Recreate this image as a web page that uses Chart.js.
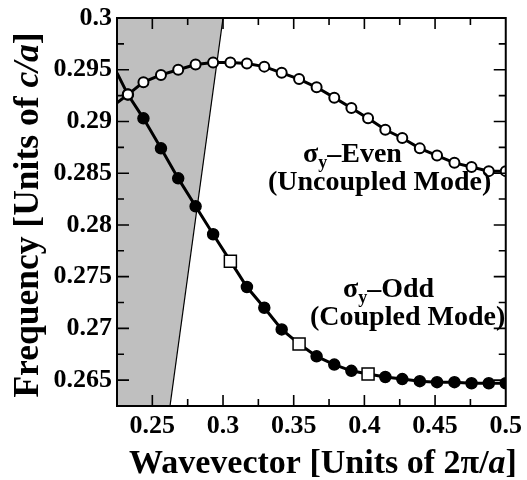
<!DOCTYPE html>
<html>
<head>
<meta charset="utf-8">
<script src="https://cdn.jsdelivr.net/npm/chart.js@4.4.1/dist/chart.umd.min.js"></script>
<style>
  html, body { margin: 0; padding: 0; background: #fff; }
  canvas { display: block; }
</style>
</head>
<body>
<canvas id="myChart" width="527" height="480"></canvas>
<script>
// Datos
const kx = [0.225, 0.2327, 0.2437, 0.2561, 0.2683, 0.2806, 0.2930, 0.3052, 0.3169, 0.3292, 0.3415, 0.3538,
            0.3662, 0.3787, 0.3908, 0.4026, 0.4148, 0.4268, 0.4392, 0.4514, 0.4637, 0.4758, 0.4880, 0.5];
const evenFreq = [0.2918, 0.2926, 0.2938, 0.2945, 0.2950, 0.2955, 0.2957, 0.2957, 0.2956, 0.2953, 0.2947, 0.2941,
                  0.2933, 0.2923, 0.2913, 0.2903, 0.2892, 0.2884, 0.2874, 0.2867, 0.2860, 0.2856, 0.2852, 0.2852];
const oddFreq = [0.2947, 0.2926, 0.2903, 0.2874, 0.2845, 0.2818, 0.2791, 0.2765, 0.2740, 0.2720, 0.2699, 0.2685,
                 0.2673, 0.2665, 0.2659, 0.2656, 0.2653, 0.2651, 0.2649, 0.2648, 0.2648, 0.2647, 0.2647, 0.2647];
const oddSquares = [7, 11, 15];      // puntos marcados con cuadrado
const lightK = [0.22, 0.30];          // línea de luz
const lightFreq = [0.22, 0.30];

const xTicks = [0.25, 0.3, 0.35, 0.4, 0.45, 0.5];
const xTickLabels = ["0.25", "0.3", "0.35", "0.4", "0.45", "0.5"];
const xMinor = [0.275, 0.325, 0.375, 0.425, 0.475];
const yTicks = [0.265, 0.27, 0.275, 0.28, 0.285, 0.29, 0.295, 0.3];
const yTickLabels = ["0.265", "0.27", "0.275", "0.28", "0.285", "0.29", "0.295", "0.3"];
const yMinor = [0.2625, 0.2675, 0.2725, 0.2775, 0.2825, 0.2875, 0.2925, 0.2975];

const SERIF = '"Liberation Serif", "Times New Roman", serif';
const toPoints = (xs, ys) => xs.map((x, i) => ({x: x, y: ys[i]}));

// Dibuja texto con varios estilos en una línea
function drawRich(ctx, parts, x, y, align) {
    let total = 0;
    parts.forEach(p => { ctx.font = p.font; total += ctx.measureText(p.t).width; });
    let cx = align === 'center' ? x - total / 2 : x;
    parts.forEach(p => {
        ctx.font = p.font;
        ctx.fillText(p.t, cx, y + (p.dy || 0));
        cx += ctx.measureText(p.t).width;
    });
}

const B = s => 'bold ' + s + 'px ' + SERIF;
const BI = s => 'italic bold ' + s + 'px ' + SERIF;

const framePlugin = {
    id: 'frame',
    afterDraw(chart) {
        const ctx = chart.ctx;
        const a = chart.chartArea;
        const xs = chart.scales.x, ys = chart.scales.y;
        ctx.save();
        ctx.strokeStyle = '#000';
        ctx.lineWidth = 1.6;
        const tick = (vals, len) => {
            vals.forEach(v => {
                const px = xs.getPixelForValue(v);
                if (px > a.left + 1 && px < a.right - 1) {
                    ctx.beginPath();
                    ctx.moveTo(px, a.bottom); ctx.lineTo(px, a.bottom - len);
                    ctx.moveTo(px, a.top); ctx.lineTo(px, a.top + len);
                    ctx.stroke();
                }
            });
        };
        const tickY = (vals, len) => {
            vals.forEach(v => {
                const py = ys.getPixelForValue(v);
                if (py > a.top + 1 && py < a.bottom - 1) {
                    ctx.beginPath();
                    ctx.moveTo(a.left, py); ctx.lineTo(a.left + len, py);
                    ctx.moveTo(a.right, py); ctx.lineTo(a.right - len, py);
                    ctx.stroke();
                }
            });
        };
        tick(xTicks, 11); tick(xMinor, 7);
        tickY(yTicks, 12); tickY(yMinor, 7);
        ctx.lineWidth = 2;
        ctx.strokeRect(a.left, a.top, a.right - a.left, a.bottom - a.top);

        // Etiquetas de los modos
        ctx.fillStyle = '#000';
        ctx.textBaseline = 'alphabetic';
        ctx.textAlign = 'left';
        const sig = name => [
            {t: 'σ', font: B(28)},
            {t: 'y', font: B(18), dy: 6},
            {t: '–' + name, font: B(28)}
        ];
        drawRich(ctx, sig('Even'), 303, 162, 'left');
        drawRich(ctx, [{t: '(Uncoupled Mode)', font: B(28)}], 268, 190, 'left');
        drawRich(ctx, sig('Odd'), 343, 297, 'left');
        drawRich(ctx, [{t: '(Coupled Mode)', font: B(28)}], 310, 325, 'left');

        // Títulos de los ejes
        drawRich(ctx, [
            {t: 'Wavevector [Units of 2π/', font: B(34)},
            {t: 'a', font: BI(34)},
            {t: ']', font: B(34)}
        ], 323, 473, 'center');
        ctx.translate(38, 215);
        ctx.rotate(-Math.PI / 2);
        drawRich(ctx, [
            {t: 'Frequency [Units of ', font: B(35.5)},
            {t: 'c/a', font: BI(35.5)},
            {t: ']', font: B(35.5)}
        ], 0, 0, 'center');
        ctx.restore();
    }
};

const ctx = document.getElementById('myChart').getContext('2d');
const myChart = new Chart(ctx, {
    type: 'line',
    data: {
        datasets: [
            {
                label: 'σy-Even',
                data: toPoints(kx, evenFreq),
                borderColor: '#000',
                borderWidth: 3,
                fill: false,
                pointStyle: 'circle',
                pointRadius: c => c.dataIndex === 0 ? 0 : 5,
                pointBackgroundColor: '#fff',
                pointBorderColor: '#000',
                pointBorderWidth: 2
            },
            {
                label: 'σy-Odd',
                data: toPoints(kx, oddFreq),
                borderColor: '#000',
                borderWidth: 3,
                fill: false,
                pointStyle: c => oddSquares.includes(c.dataIndex) ? 'rect' : 'circle',
                pointRadius: c => c.dataIndex === 0 ? 0 : (oddSquares.includes(c.dataIndex) ? 8.5 : 5.5),
                pointBackgroundColor: c => oddSquares.includes(c.dataIndex) ? '#fff' : '#000',
                pointBorderColor: '#000',
                pointBorderWidth: 1.5
            },
            {
                label: 'Light line',
                data: toPoints(lightK, lightFreq),
                borderColor: '#000',
                borderWidth: 1.2,
                backgroundColor: '#bfbfbf',
                fill: 'end',
                pointRadius: 0
            }
        ]
    },
    options: {
        responsive: false,
        devicePixelRatio: 1,
        animation: false,
        layout: {padding: {top: 15, right: 19, left: 0, bottom: 0}},
        plugins: {legend: {display: false}, tooltip: {enabled: false}},
        scales: {
            x: {
                type: 'linear',
                min: 0.225,
                max: 0.5,
                afterBuildTicks: s => { s.ticks = xTicks.map(v => ({value: v})); },
                afterFit: s => { s.height = 74; },
                grid: {display: false, drawTicks: false},
                border: {display: false},
                ticks: {
                    callback: (v, i) => xTickLabels[i],
                    font: {family: SERIF, size: 26, weight: 'bold'},
                    color: '#000',
                    padding: 5,
                    maxRotation: 0
                }
            },
            y: {
                type: 'linear',
                min: 0.2625,
                max: 0.3,
                afterBuildTicks: s => { s.ticks = yTicks.map(v => ({value: v})); },
                afterFit: s => { s.width = 117; },
                grid: {display: false, drawTicks: false},
                border: {display: false},
                ticks: {
                    callback: (v, i) => yTickLabels[i],
                    font: {family: SERIF, size: 26, weight: 'bold', lineHeight: 1},
                    color: '#000',
                    padding: 5
                }
            }
        }
    },
    plugins: [framePlugin]
});
</script>
</body>
</html>
